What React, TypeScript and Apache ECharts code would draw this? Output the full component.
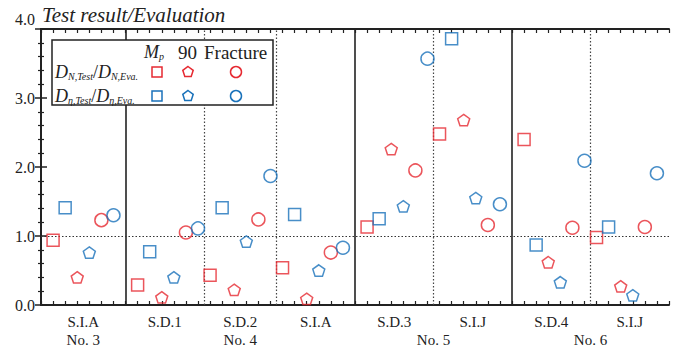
import React, { useEffect, useRef } from "react";
import * as echarts from "echarts";

// Section starting positions on the x value axis (each section holds 6 points)
const sectionStarts = [1, 8, 14, 20, 27, 33, 40, 46];
const sectionLabels = ["S.I.A", "S.D.1", "S.D.2", "S.I.A", "S.D.3", "S.I.J", "S.D.4", "S.I.J"];
const sectionLabelPos = [3.5, 10.25, 16.5, 22.75, 29.25, 35.75, 42.25, 48.75];
const groupLabels = ["No. 3", "No. 4", "No. 5", "No. 6"];
const groupLabelPos = [3.5, 16.5, 32.5, 45.5];
const solidSeparators = [7, 26, 39];
const dottedSeparators = [13.5, 19.5, 32.5, 45.5];
const yTicks = [0, 1, 2, 3, 4];

// Values (Test result / Evaluation)
const nMp = [0.94, 0.29, 0.43, 0.54, 1.13, 2.48, 2.4, 0.98];
const etaMp = [1.41, 0.77, 1.41, 1.31, 1.25, 3.86, 0.87, 1.13];
const n90 = [0.4, 0.11, 0.22, 0.09, 2.26, 2.68, 0.62, 0.27];
const eta90 = [0.76, 0.4, 0.92, 0.5, 1.43, 1.55, 0.33, 0.14];
const nFrac = [1.23, 1.05, 1.24, 0.76, 1.95, 1.16, 1.12, 1.13];
const etaFrac = [1.3, 1.11, 1.87, 0.83, 3.57, 1.46, 2.09, 1.91];

const RED = "#E62A32";
const BLUE = "#1A72BA";
const INK = "#222";
const FONT = "'Liberation Serif', 'Times New Roman', 'DejaVu Serif', serif";
const PENT = "path://M50,0 L97.55,34.55 L79.39,90.45 L20.61,90.45 L2.45,34.55 Z";

function pts(vals: number[], offset: number) {
  return vals.map((v, i) => [sectionStarts[i] + offset, v]);
}

export default function App() {
  const ref = useRef<HTMLDivElement>(null);
  useEffect(() => {
    if (!ref.current) return;
    const chart = echarts.init(ref.current, null, { renderer: "svg" });
    const mk = (name: string, data: number[][], symbol: string, color: string, size: number) => ({
      name,
      type: "scatter",
      data,
      symbol,
      symbolSize: size,
      symbolKeepAspect: true,
      itemStyle: { color: "transparent", borderColor: color, borderWidth: 1.5 },
      z: 5,
    });
    const sub = { fontSize: 10, fontStyle: "italic", fontFamily: FONT, fill: INK, color: INK, verticalAlign: "bottom", lineHeight: 20, padding: [0, 0, 1, 0] };
    const big = { fontSize: 18, fontStyle: "italic", fontFamily: FONT, fill: INK, color: INK, lineHeight: 20 };
    const slash = { fontSize: 18, fontFamily: FONT, fill: INK, color: INK, lineHeight: 20 };
    const legendRich = { D: big, s: sub, n: slash };
    const option: any = {
      animation: false,
      backgroundColor: "#fff",
      textStyle: { fontFamily: FONT },
      grid: { left: 41, right: 14, top: 29, bottom: 40, containLabel: false },
      xAxis: [
        {
          type: "value", min: 0, max: 52, interval: 1, position: "bottom",
          axisLine: { show: true, lineStyle: { color: INK, width: 2 } },
          axisTick: { show: true, inside: true, length: 4, lineStyle: { color: INK, width: 1.2 } },
          axisLabel: { show: false }, splitLine: { show: false },
        },
        {
          type: "value", min: 0, max: 52, interval: 0.25, position: "bottom",
          axisLine: { show: false }, axisTick: { show: false }, splitLine: { show: false },
          axisLabel: {
            show: true, margin: 8, fontFamily: FONT, fontSize: 15, color: INK, lineHeight: 18,
            formatter: (v: number) => {
              const si = sectionLabelPos.findIndex((p) => Math.abs(p - v) < 1e-6);
              const gi = groupLabelPos.findIndex((p) => Math.abs(p - v) < 1e-6);
              if (si < 0 && gi < 0) return "";
              return (si >= 0 ? sectionLabels[si] : " ") + "\n" + (gi >= 0 ? groupLabels[gi] : " ");
            },
          },
        },
        {
          type: "value", min: 0, max: 52, interval: 1, position: "top",
          axisLine: { show: true, lineStyle: { color: INK, width: 2 } },
          axisTick: { show: true, inside: true, length: 4, lineStyle: { color: INK, width: 1.2 } },
          axisLabel: { show: false }, splitLine: { show: false },
        },
      ],
      yAxis: [
        {
          type: "value", min: 0, max: 4, interval: 1, position: "left",
          axisLine: { show: true, lineStyle: { color: INK, width: 2 } },
          axisTick: { show: true, inside: true, length: 6, lineStyle: { color: INK, width: 1.5 } },
          minorTick: { show: true, splitNumber: 5, length: 3, lineStyle: { color: INK, width: 1.2 } },
          splitLine: { show: false },
          axisLabel: {
            show: true, margin: 6, fontFamily: FONT, fontSize: 16, color: INK,
            formatter: (v: number) => (v === 4 ? "{t|4.0}" : yTicks.includes(v) ? v.toFixed(1) : ""),
            rich: { t: { fontFamily: FONT, fontSize: 16, color: INK, padding: [0, 0, 20, 0] } },
          },
        },
        {
          type: "value", min: 0, max: 4, interval: 1, position: "right",
          axisLine: { show: true, lineStyle: { color: INK, width: 2 } },
          axisTick: { show: true, inside: true, length: 6, lineStyle: { color: INK, width: 1.5 } },
          minorTick: { show: true, splitNumber: 5, length: 3, lineStyle: { color: INK, width: 1.2 } },
          splitLine: { show: false }, axisLabel: { show: false },
        },
      ],
      series: [
        {
          type: "scatter", data: [], silent: true,
          markLine: {
            silent: true, symbol: "none", label: { show: false },
            data: [
              ...solidSeparators.map((x) => ({ xAxis: x, lineStyle: { color: INK, width: 1.6, type: "solid" } })),
              ...dottedSeparators.map((x) => ({ xAxis: x, lineStyle: { color: "#444", width: 1.2, type: [1.5, 2] } })),
              { yAxis: 1, lineStyle: { color: "#333", width: 1.2, type: [1.5, 2] } },
            ],
          },
        },
        mk("N Mp", pts(nMp, 0), "rect", RED, 12),
        mk("eta Mp", pts(etaMp, 1), "rect", BLUE, 12),
        mk("N 90", pts(n90, 2), PENT, RED, 12),
        mk("eta 90", pts(eta90, 3), PENT, BLUE, 12),
        mk("N Fracture", pts(nFrac, 4), "circle", RED, 13),
        mk("eta Fracture", pts(etaFrac, 5), "circle", BLUE, 13),
      ],
      graphic: [
        {
          type: "text", left: 42, top: 4,
          style: { text: "Test result/Evaluation", fontFamily: FONT, fontStyle: "italic", fontSize: 21, fill: INK },
        },
        {
          type: "rect", shape: { x: 52, y: 40, width: 221, height: 65 },
          style: { fill: "#fff", stroke: INK, lineWidth: 1.5 }, z: 10,
        },
        {
          type: "text", x: 144, y: 52, z: 11,
          style: {
            text: "{D|M}{s|p}", rich: { D: big, s: sub }, verticalAlign: "middle",
          },
        },
        { type: "text", x: 178, y: 52, z: 11, style: { text: "90", fontFamily: FONT, fontSize: 19, fill: INK, verticalAlign: "middle" } },
        { type: "text", x: 204, y: 52, z: 11, style: { text: "Fracture", fontFamily: FONT, fontSize: 19, fill: INK, verticalAlign: "middle" } },
        {
          type: "text", x: 55, y: 72, z: 11,
          style: { text: "{D|D}{s|N,Test}{n|/}{D|D}{s|N,Eva.}", rich: legendRich, verticalAlign: "middle" },
        },
        {
          type: "text", x: 55, y: 96, z: 11,
          style: { text: "{D|D}{s|η,Test}{n|/}{D|D}{s|η,Eva.}", rich: legendRich, verticalAlign: "middle" },
        },
        { type: "rect", z: 11, shape: { x: 152, y: 67, width: 10, height: 10 }, style: { fill: "none", stroke: RED, lineWidth: 1.5 } },
        { type: "rect", z: 11, shape: { x: 152, y: 91, width: 10, height: 10 }, style: { fill: "none", stroke: BLUE, lineWidth: 1.5 } },
        {
          type: "polygon", z: 11,
          shape: { points: [[188, 66.5], [193.2, 70.3], [191.2, 76.4], [184.8, 76.4], [182.8, 70.3]] },
          style: { fill: "none", stroke: RED, lineWidth: 1.5 },
        },
        {
          type: "polygon", z: 11,
          shape: { points: [[188, 90.5], [193.2, 94.3], [191.2, 100.4], [184.8, 100.4], [182.8, 94.3]] },
          style: { fill: "none", stroke: BLUE, lineWidth: 1.5 },
        },
        { type: "circle", z: 11, shape: { cx: 236, cy: 72, r: 5.5 }, style: { fill: "none", stroke: RED, lineWidth: 1.5 } },
        { type: "circle", z: 11, shape: { cx: 236, cy: 96, r: 5.5 }, style: { fill: "none", stroke: BLUE, lineWidth: 1.5 } },
      ],
    };
    chart.setOption(option);
    return () => chart.dispose();
  }, []);
  return <div ref={ref} style={{ width: 683, height: 349, position: "absolute", left: 0, top: 0 }} />;
}
